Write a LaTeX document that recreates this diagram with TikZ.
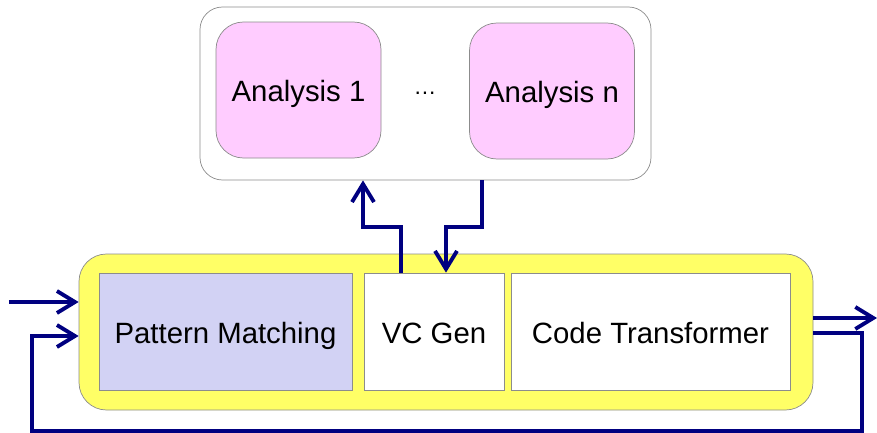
\documentclass[tikz,border=0pt]{standalone}
\usepackage{fontspec}
\setmainfont{Liberation Sans}
\usepackage{tikz}
\usetikzlibrary{positioning,arrows.meta}
\definecolor{boxgray}{HTML}{8C8C8C}
\definecolor{anapink}{HTML}{FFCCFF}
\definecolor{pmblue}{HTML}{D2D2F4}
\definecolor{coreyellow}{HTML}{FFFF66}
\definecolor{flownavy}{HTML}{000080}
\tikzset{
  label text/.style={font=\fontsize{16.7}{20}\selectfont, text height=0.59cm, text depth=0.124cm},
  container/.style={draw=boxgray, fill=white, rounded corners=0.45cm, thin},
  anabox/.style={draw=boxgray, fill=anapink, rounded corners=0.55cm, thin,
                 minimum width=3.3cm, minimum height=2.72cm, label text},
  corebox/.style={draw=boxgray, fill=coreyellow, rounded corners=0.55cm, thin,
                  minimum width=14.68cm, minimum height=3.12cm},
  stagebox/.style={draw=boxgray, fill=white, thin, minimum height=2.34cm, label text},
  flow/.style={draw=flownavy, line width=2.2pt,
               -{Straight Barb[length=3.6mm, width=4.4mm, line width=2.2pt]}},
}
\begin{document}
\begin{tikzpicture}
  \useasboundingbox (0,0) rectangle (17.54,-8.66);

  % analyses
  \node[container, minimum width=9.02cm, minimum height=3.46cm] (analyses) at (8.51,-1.87) {};
  \node[anabox] (ana1) at (5.97,-1.8) {Analysis 1};
  \node[anabox] (anan) at (11.04,-1.82) {Analysis n};
  \node[font=\fontsize{13}{15}\selectfont, inner sep=0pt] (dots) at (8.5,-1.86) {\dots};

  % core pipeline
  \node[corebox] (core) at (8.92,-6.64) {};
  \node[stagebox, fill=pmblue, minimum width=5.06cm] (pm) at (4.51,-6.63) {Pattern Matching};
  \node[stagebox, minimum width=2.8cm] (vc) at (8.68,-6.63) {VC Gen};
  \node[stagebox, minimum width=5.58cm] (ct) at (13.01,-6.63) {Code Transformer};

  \coordinate (in) at (0.18,-6.04);
  \coordinate (out) at (17.54,-6.36);
  \coordinate (fb) at (17.24,-8.62);
  \coordinate (fbl) at (0.64,-6.72);

  % connectors
  \draw[flow] ([xshift=-0.66cm]vc.north) -- ++(0,0.92) -| ([xshift=-1.25cm]analyses.south);
  \draw[flow] ([xshift=1.13cm]analyses.south) -- ++(0,-0.94) -| ([xshift=0.24cm]vc.north);
  \draw[flow] (in) -- (core.west |- in);
  \draw[flow] (core.east |- out) -- (out);
  \draw[flow] ([yshift=-0.02cm]core.east) -| (fb) -| (fbl) -- (core.west |- fbl);
\end{tikzpicture}
\end{document}
